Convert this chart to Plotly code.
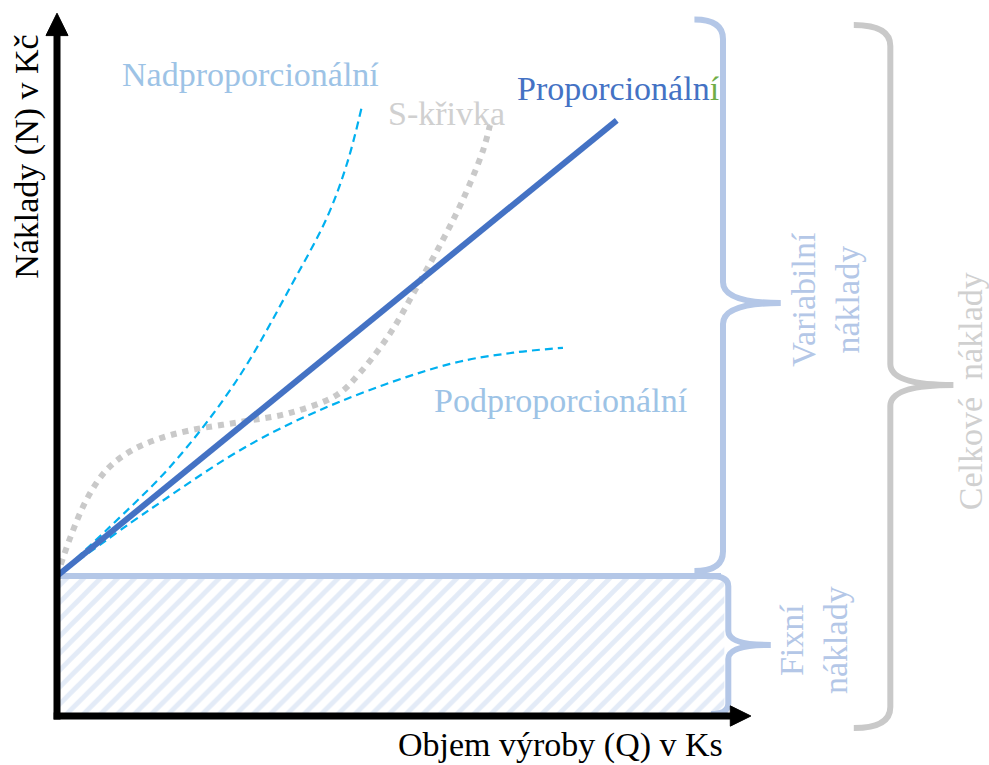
import plotly.graph_objects as go

# Cost model (Q = output volume, N = costs), arbitrary units
fixed_cost = 20
q_max = 100
n_max = 99.5

q_prop = [0, 84.3]
n_prop = [20, 85.1]

q_over = [0, 7.5, 17.5, 27.1, 35.5, 40.7, 43.7, 45.9]
n_over = [20, 26.6, 36.1, 48.0, 61.9, 71.3, 79.0, 87.0]

q_under = [0, 14.0, 29.1, 42.6, 59.2, 68.7, 76.2]
n_under = [20, 29.5, 38.8, 44.9, 50.3, 51.9, 52.6]

q_s = [0, 2.0, 4.5, 7.5, 11.0, 15.0, 20.0, 27.6, 35.1, 42.2, 45.6, 50.2, 54.2, 58.1, 61.1, 64.2, 65.2]
n_s = [20, 25.5, 31.0, 35.2, 37.8, 39.5, 40.8, 42.0, 43.3, 45.9, 49.0, 54.7, 61.3, 68.0, 73.7, 80.9, 84.4]

FONT = "Liberation Serif"
BLUE = "#4472C4"
CYAN = "#00B0F0"
LIGHT_BLUE = "#B4C7E7"
LABEL_BLUE = "#9DC3E6"
GRAY = "#C9C9C9"
LABEL_GRAY = "#D0D0D0"

fig = go.Figure()

# Fixed costs: hatched block under the fixed-cost level
fig.add_trace(go.Scatter(
    x=[0, q_max + 0.5, q_max + 0.5, 0, 0],
    y=[0, 0, fixed_cost, fixed_cost, 0],
    mode="lines", fill="toself", line=dict(width=0),
    fillcolor="white",
    fillpattern=dict(shape="/", fgcolor="#C8D7EF", bgcolor="white", size=12, solidity=0.4),
    hoverinfo="skip",
))
fig.add_trace(go.Scatter(
    x=[0, q_max], y=[fixed_cost, fixed_cost], mode="lines",
    line=dict(color=LIGHT_BLUE, width=6), hoverinfo="skip",
))

# Cost curves
fig.add_trace(go.Scatter(x=q_s, y=n_s, mode="lines", line=dict(color=GRAY, width=6, dash="6px,6px", shape="spline", smoothing=1.0)))
fig.add_trace(go.Scatter(x=q_over, y=n_over, mode="lines", line=dict(color=CYAN, width=2.2, dash="8px,5px", shape="spline")))
fig.add_trace(go.Scatter(x=q_under, y=n_under, mode="lines", line=dict(color=CYAN, width=2.2, dash="8px,5px", shape="spline")))
fig.add_trace(go.Scatter(x=q_prop, y=n_prop, mode="lines", line=dict(color=BLUE, width=6)))


def brace(x_tail, x_stem, x_tip, y_top, y_bot, r_end, r_mid, y_mid=None):
    """Right-facing curly brace as an SVG path in data coordinates."""
    ym = (y_top + y_bot) / 2 if y_mid is None else y_mid
    return (
        f"M{x_tail},{y_top} Q{x_stem},{y_top} {x_stem},{y_top - r_end} "
        f"L{x_stem},{ym + r_mid} Q{x_stem},{ym} {x_tip},{ym} "
        f"Q{x_stem},{ym} {x_stem},{ym - r_mid} "
        f"L{x_stem},{y_bot + r_end} Q{x_stem},{y_bot} {x_tail},{y_bot}"
    )


shapes = [
    # variable costs brace
    dict(type="path", path=brace(96, q_max + 0.3, 109, n_max, fixed_cost + 0.7, 2.8, 3.0, 59.0),
         line=dict(color=LIGHT_BLUE, width=6), xref="x", yref="y"),
    # fixed costs brace
    dict(type="path", path=brace(98.5, q_max + 1.1, 107.5, fixed_cost, 0.3, 1.5, 2.0),
         line=dict(color=LIGHT_BLUE, width=6), xref="x", yref="y"),
    # total costs brace
    dict(type="path", path=brace(120, 125.5, 135, n_max - 0.8, -1.7, 3.0, 3.0, 47.3),
         line=dict(color=GRAY, width=6), xref="x", yref="y"),
    # axes with arrowheads
    dict(type="line", x0=0, y0=-0.5, x1=0, y1=97.5, line=dict(color="black", width=7), xref="x", yref="y"),
    dict(type="path", path="M-1.66,97.2 L1.66,97.2 L0,100.4 Z", fillcolor="black",
         line=dict(color="black", width=1), xref="x", yref="y"),
    dict(type="line", x0=-0.5, y0=0, x1=101.6, y1=0, line=dict(color="black", width=7), xref="x", yref="y"),
    dict(type="path", path="M101.4,-1.45 L101.4,1.45 L104.5,0 Z", fillcolor="black",
         line=dict(color="black", width=1), xref="x", yref="y"),
]


def label(text, x, y, color, angle=0, size=34):
    return dict(text=text, x=x, y=y, xref="x", yref="y", showarrow=False,
                textangle=angle, font=dict(family=FONT, size=size, color=color),
                xanchor="center", yanchor="middle", align="center")


annotations = [
    label("Nadproporcionální", 29.2, 91.6, LABEL_BLUE),
    label("S-křivka", 58.7, 86.1, LABEL_GRAY),
    label("Proporcionáln<span style='color:#70AD47'>í</span>", 84.5, 89.7, BLUE),
    label("Podproporcionální", 75.9, 45.1, LABEL_BLUE),
    label("Náklady (N) v Kč", -4.5, 79.9, "black", angle=-90),
    label("Objem výroby (Q) v Ks", 75.8, -4.1, "black"),
    label("Variabilní<br>náklady", 115.8, 59.6, LIGHT_BLUE, angle=-90),
    label("Fixní<br>náklady", 113.9, 10.9, LIGHT_BLUE, angle=-90),
    label("Celkové  náklady", 137.5, 46.4, LABEL_GRAY, angle=-90),
]

fig.update_layout(
    width=989, height=765,
    margin=dict(l=0, r=0, t=0, b=0),
    paper_bgcolor="white", plot_bgcolor="white",
    showlegend=False,
    xaxis=dict(range=[-57 / 6.64, (989 - 57) / 6.64], visible=False, fixedrange=True),
    yaxis=dict(range=[-(765 - 716) / 7, 716 / 7], visible=False, fixedrange=True),
    shapes=shapes,
    annotations=annotations,
)

fig.write_html("out.html")
